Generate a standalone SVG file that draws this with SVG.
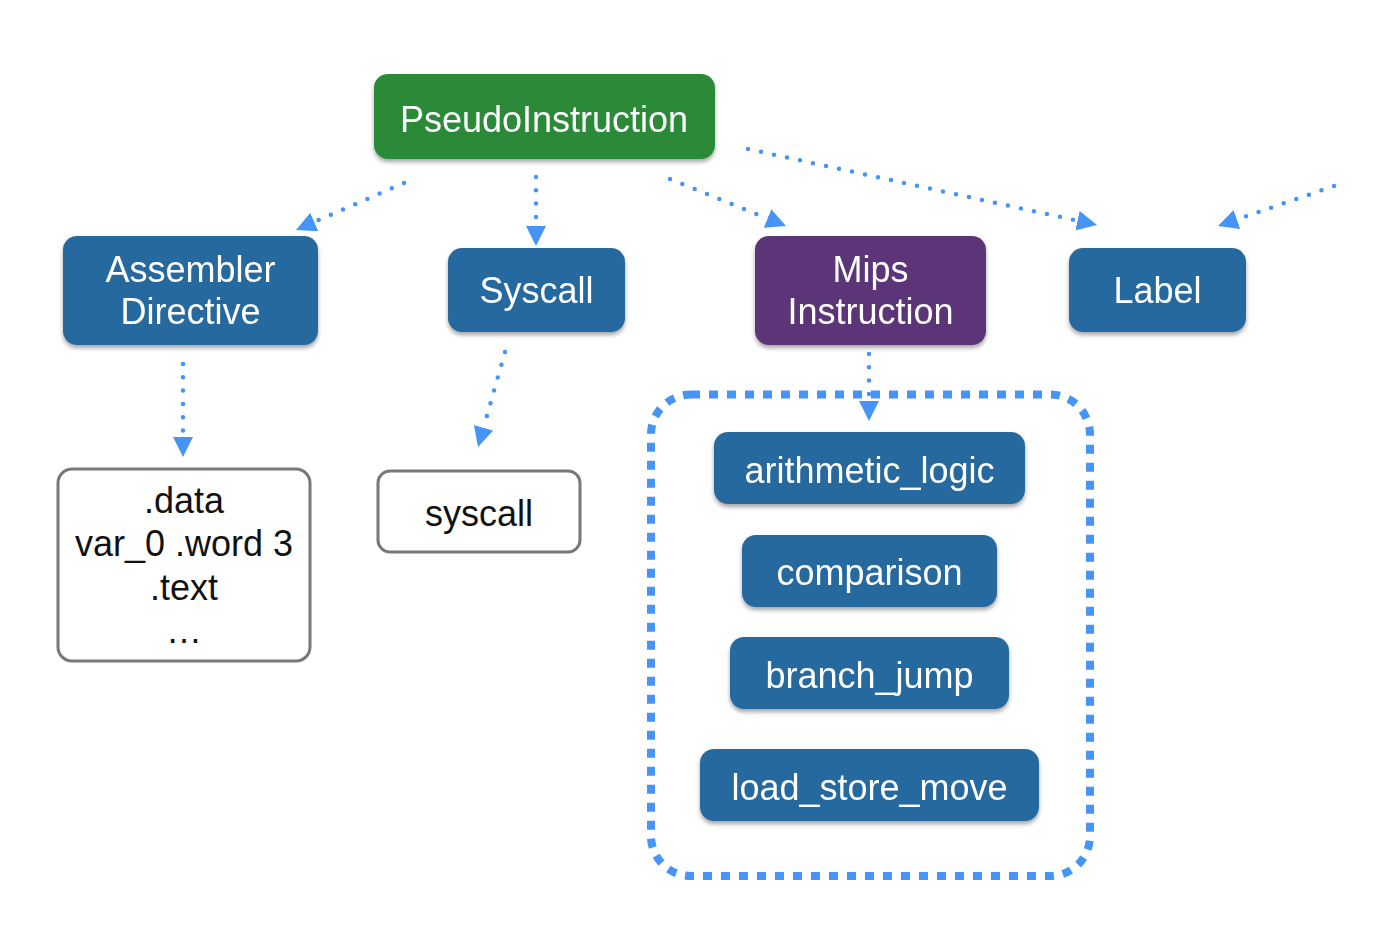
<svg xmlns="http://www.w3.org/2000/svg" width="1378" height="926" viewBox="0 0 1378 926">
<style>
.node{filter:url(#sh)}
.lbl{font-family:"Liberation Sans",Arial,sans-serif;font-size:36px;fill:#ffffff;text-anchor:middle}
.dk{font-family:"Liberation Sans",Arial,sans-serif;font-size:36px;fill:#111111;text-anchor:middle}
.blue{fill:#27699e}
.wbox{fill:#ffffff;stroke:#787878;stroke-width:3}
.con{fill:none;stroke:#4594f6;stroke-width:4.5;stroke-linecap:round;stroke-dasharray:0 13.3;marker-end:url(#ah)}
</style>
<defs>
<filter id="sh" x="-10%" y="-10%" width="120%" height="130%">
<feDropShadow dx="0" dy="3" stdDeviation="2" flood-color="#000" flood-opacity="0.35"/>
</filter>
<marker id="ah" viewBox="0 0 20 20" refX="0" refY="10" markerWidth="20" markerHeight="20" markerUnits="userSpaceOnUse" orient="auto">
<path d="M0,0 L20,10 L0,20 z" fill="#4594f6"/>
</marker>
</defs>
<rect width="1378" height="926" fill="#ffffff"/>

<g id="connectors">
<line class="con" x1="404" y1="183" x2="314.3" y2="222"/>
<line class="con" x1="536" y1="177" x2="536" y2="226"/>
<line class="con" x1="670" y1="179" x2="767.5" y2="218.5"/>
<line class="con" x1="748" y1="149" x2="1077.5" y2="220.7"/>
<line class="con" x1="1334" y1="186" x2="1236.9" y2="219.5"/>
<line class="con" x1="183" y1="364" x2="183" y2="437"/>
<line class="con" x1="505" y1="352" x2="483.5" y2="427.8"/>
<line class="con" x1="869" y1="354" x2="869" y2="401"/>
</g>

<g id="mips-group">
<rect x="651" y="394.5" width="439" height="481.5" rx="40" fill="none" stroke="#4594f6" stroke-width="8" stroke-dasharray="9 9"/>
</g>

<g id="pseudo" class="node">
<rect x="374" y="74" width="341" height="85" rx="14" fill="#2a8a37"/>
<text class="lbl" x="544" y="132">PseudoInstruction</text>
</g>

<g id="assembler" class="node">
<rect class="blue" x="63" y="236" width="255" height="109" rx="14"/>
<text class="lbl" x="190.5" y="282">Assembler</text>
<text class="lbl" x="190.5" y="324">Directive</text>
</g>

<g id="syscall-node" class="node">
<rect class="blue" x="448" y="248" width="177" height="84" rx="14"/>
<text class="lbl" x="536.5" y="303">Syscall</text>
</g>

<g id="mips" class="node">
<rect x="755" y="236" width="231" height="109" rx="14" fill="#5b3478"/>
<text class="lbl" x="870.5" y="282">Mips</text>
<text class="lbl" x="870.5" y="324">Instruction</text>
</g>

<g id="label" class="node">
<rect class="blue" x="1069" y="248" width="177" height="84" rx="14"/>
<text class="lbl" x="1157.5" y="303">Label</text>
</g>

<g id="data-box">
<rect class="wbox" x="58" y="469" width="252" height="192" rx="14"/>
<text class="dk" x="184" y="513">.data</text>
<text class="dk" x="184" y="556">var_0 .word 3</text>
<text class="dk" x="184" y="600">.text</text>
<text class="dk" x="184" y="643">…</text>
</g>

<g id="syscall-box">
<rect class="wbox" x="378" y="471" width="202" height="81" rx="12"/>
<text class="dk" x="479" y="526">syscall</text>
</g>

<g id="arith" class="node">
<rect class="blue" x="714" y="432" width="311" height="72" rx="14"/>
<text class="lbl" x="869.5" y="483">arithmetic_logic</text>
</g>

<g id="comparison" class="node">
<rect class="blue" x="742" y="535" width="255" height="72" rx="14"/>
<text class="lbl" x="869.5" y="585">comparison</text>
</g>

<g id="branch" class="node">
<rect class="blue" x="730" y="637" width="279" height="72" rx="14"/>
<text class="lbl" x="869.5" y="688">branch_jump</text>
</g>

<g id="loadstore" class="node">
<rect class="blue" x="700" y="749" width="339" height="72" rx="14"/>
<text class="lbl" x="869.5" y="800">load_store_move</text>
</g>
</svg>
